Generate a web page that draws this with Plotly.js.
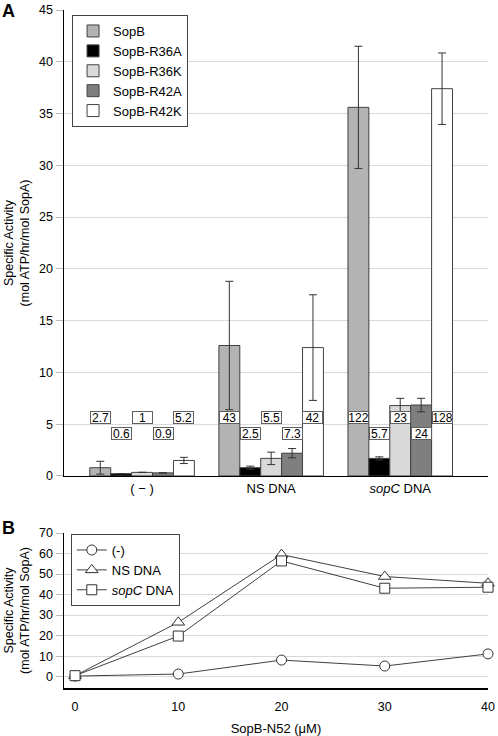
<!DOCTYPE html>
<html>
<head>
<meta charset="utf-8">
<script src="https://cdn.plot.ly/plotly-3.0.1.min.js"></script>
<style>html,body{margin:0;padding:0;background:#fff;}#chart{width:498px;height:736px;}</style>
</head>
<body>
<div id="chart"></div>
<script>
// ---------- Panel A data ----------
const categories = ['( \u2212 )', 'NS DNA', '<i>sopC</i> DNA'];
const seriesNames = ['SopB', 'SopB-R36A', 'SopB-R36K', 'SopB-R42A', 'SopB-R42K'];
const sopB    = [0.8, 12.6, 35.6];
const sopBErr = [0.62, 6.2, 5.9];
const r36A    = [0.22, 0.8, 1.7];
const r36AErr = [0, 0.15, 0.15];
const r36K    = [0.35, 1.7, 6.8];
const r36KErr = [0, 0.6, 0.7];
const r42A    = [0.3, 2.2, 6.85];
const r42AErr = [0, 0.45, 0.65];
const r42K    = [1.5, 12.4, 37.4];
const r42KErr = [0.3, 5.1, 3.45];
const labelSopB = ['2.7', '43', '122'];
const labelR36A = ['0.6', '2.5', '5.7'];
const labelR36K = ['1', '5.5', '23'];
const labelR42A = ['0.9', '7.3', '24'];
const labelR42K = ['5.2', '42', '128'];

// ---------- Panel B data ----------
const concentration = [0, 10, 20, 30, 40];
const noDNA   = [0.3, 1.3, 8.1, 5.2, 11.1];
const nsDNA   = [0.5, 26.5, 59.5, 48.8, 45.5];
const sopCDNA = [0.5, 19.8, 56.4, 43.1, 43.6];
const lineNames = ['(-)', 'NS DNA', '<i>sopC</i> DNA'];

// ---------- styling ----------
const FONT = 'Liberation Sans, Arial, Helvetica, sans-serif';
const barColors = ['#b3b3b3', '#000000', '#d9d9d9', '#7f7f7f', '#ffffff'];
const groupX = categories.map((c, i) => i);
const barVals = [sopB, r36A, r36K, r42A, r42K];
const barErrs = [sopBErr, r36AErr, r36KErr, r42AErr, r42KErr];
const barLabels = [labelSopB, labelR36A, labelR36K, labelR42A, labelR42K];
const BARGAP = 0.19;
const bw = (1 - BARGAP) / seriesNames.length;

const traces = [];
seriesNames.forEach((name, s) => {
  traces.push({
    type: 'bar', name: name, x: groupX, y: barVals[s],
    xaxis: 'x', yaxis: 'y', legend: 'legend',
    marker: {color: barColors[s], line: {color: '#404040', width: 1}},
    error_y: {type: 'data', array: barErrs[s], visible: true, color: '#333333', thickness: 1, width: 4},
    hoverinfo: 'skip'
  });
});

const symbols = ['circle', 'triangle-up', 'square'];
const lineData = [noDNA, nsDNA, sopCDNA];
lineNames.forEach((name, i) => {
  traces.push({
    type: 'scatter', mode: 'lines+markers', name: name,
    x: concentration, y: lineData[i], xaxis: 'x3', yaxis: 'y2', legend: 'legend2',
    line: {color: '#404040', width: 1},
    marker: {symbol: symbols[i], size: i === 1 ? 11 : 10, color: '#ffffff', line: {color: '#333333', width: 1}},
    cliponaxis: false, hoverinfo: 'skip'
  });
});

// value label boxes in panel A
const annotations = [];
barLabels.forEach((labs, s) => {
  labs.forEach((txt, g) => {
    annotations.push({
      xref: 'x', yref: 'y', x: g + (s - 2) * bw, y: (s % 2 === 0) ? 5.65 : 4.15,
      text: txt, showarrow: false, font: {family: FONT, size: 12, color: '#000'},
      bgcolor: '#ffffff', bordercolor: '#606060', borderwidth: 1, borderpad: 0,
      width: 19, height: 11, align: 'center', valign: 'middle'
    });
  });
});
annotations.push({xref: 'paper', yref: 'paper', x: -0.151, y: 1.016, xanchor: 'left', yanchor: 'top',
  text: '<b>A</b>', showarrow: false, font: {family: FONT, size: 18, color: '#000'}});
annotations.push({xref: 'paper', yref: 'paper', x: -0.151, y: 0.253, xanchor: 'left', yanchor: 'top',
  text: '<b>B</b>', showarrow: false, font: {family: FONT, size: 18, color: '#000'}});

const gridColor = '#d9d9d9';
const yTitle = 'Specific Activity<br>(mol ATP/hr/mol SopA)';
const layout = {
  width: 498, height: 736,
  margin: {l: 64, r: 10, t: 10, b: 48},
  paper_bgcolor: '#ffffff', plot_bgcolor: '#ffffff',
  font: {family: FONT, size: 12.5, color: '#000'},
  showlegend: true,
  barmode: 'group', bargap: BARGAP, bargroupgap: 0,
  xaxis: {
    domain: [0, 1], anchor: 'y', type: 'linear', range: [-0.605, 2.68],
    tickvals: groupX, ticktext: categories, showgrid: false, zeroline: false,
    showline: true, linecolor: '#000', linewidth: 1.5, ticks: '',
    tickfont: {size: 13}, fixedrange: true
  },
  xaxis2: {
    overlaying: 'x', anchor: 'y', type: 'linear', range: [-0.605, 2.68],
    tick0: -0.6, dtick: 0.4, showgrid: true, gridcolor: gridColor, gridwidth: 1,
    showticklabels: false, ticks: '', zeroline: false, showline: false
  },
  yaxis: {
    domain: [0.3127, 1], anchor: 'x', range: [0, 45], dtick: 5,
    showgrid: true, gridcolor: gridColor, zeroline: false,
    showline: true, linecolor: '#000', linewidth: 1.5,
    ticks: 'outside', ticklen: 7, tickcolor: '#bbbbbb', tickwidth: 1,
    tickfont: {size: 12.5},
    title: {text: yTitle, font: {size: 12.5}, standoff: 6}
  },
  xaxis3: {
    domain: [0, 1], anchor: 'y2', type: 'linear', range: [-1.07, 40],
    tickvals: concentration, showgrid: false, zeroline: false,
    showline: true, linecolor: '#000', linewidth: 1.5, ticks: '',
    ticklabelstandoff: 6, tickfont: {size: 12.5},
    title: {text: 'SopB-N52 (\u03bcM)', font: {size: 13}, standoff: 12}
  },
  xaxis4: {
    overlaying: 'x3', anchor: 'y2', type: 'linear', range: [-1.07, 40],
    tick0: 0, dtick: 4, showgrid: true, gridcolor: gridColor, gridwidth: 1,
    showticklabels: false, ticks: '', zeroline: false, showline: false
  },
  yaxis2: {
    domain: [0, 0.2286], anchor: 'x3', range: [-5.5, 70], dtick: 10,
    showgrid: true, gridcolor: gridColor, zeroline: false,
    showline: true, linecolor: '#000', linewidth: 1.5,
    ticks: 'outside', ticklen: 7, tickcolor: '#bbbbbb', tickwidth: 1,
    tickfont: {size: 12.5},
    title: {text: yTitle, font: {size: 12.5}, standoff: 6}
  },
  legend: {
    x: 0.019, y: 0.9926, xanchor: 'left', yanchor: 'top',
    bgcolor: '#ffffff', bordercolor: '#444444', borderwidth: 1,
    font: {size: 13}, tracegroupgap: 0, itemwidth: 30, traceorder: 'normal'
  },
  legend2: {
    x: 0.016, y: 0.2271, xanchor: 'left', yanchor: 'top',
    bgcolor: '#ffffff', bordercolor: '#444444', borderwidth: 1,
    font: {size: 13}, tracegroupgap: 0, itemwidth: 30, traceorder: 'normal'
  },
  annotations: annotations
};

Plotly.newPlot('chart', traces, layout, {displayModeBar: false, staticPlot: true});
</script>
</body>
</html>
